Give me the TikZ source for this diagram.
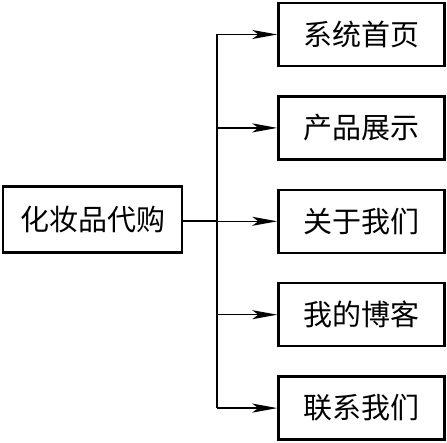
\documentclass[tikz,border=0pt]{standalone}
\usepackage{fontspec}
\newfontfamily\cjk{Noto Sans CJK SC}
\usetikzlibrary{positioning,arrows.meta}

\begin{document}
\begin{tikzpicture}[x=1pt, y=1pt, node distance=28pt,
		font=\cjk\fontsize{29}{32}\selectfont,
		box/.style={draw, rectangle, line width=2.4pt, minimum width=166pt, minimum height=63pt, inner sep=0pt},
		link/.style={line width=1.4pt},
		arr/.style={link, -{Stealth[length=25pt, width=9pt, inset=6pt]}}]
	\useasboundingbox (0,0) rectangle (447,-443);
	% Root (Left)
	\node (root) [draw, rectangle, line width=2.4pt, minimum width=179pt, minimum height=66pt, inner sep=0pt] at (92.5,-219.5) {化妆品代购};
	\coordinate (jn) at (217,-221);
	
	% Pages (Right)
	\node (home) [box] at (361.5,-34.5) {系统首页};
	\node (show) [box, below=of home] {产品展示};
	\node (about) [box, below=of show] {关于我们};
	\node (blog) [box, below=of about] {我的博客};
	\node (contact) [box, below=of blog] {联系我们};
	
	\draw[link] (root.east |- jn) -- (jn);
	\draw[link] (home.west -| jn) -- (contact.west -| jn);
	\foreach \page in {home, show, about, blog, contact}
		\draw[arr] (\page.west -| jn) -- (\page.west);
\end{tikzpicture}
\end{document}
